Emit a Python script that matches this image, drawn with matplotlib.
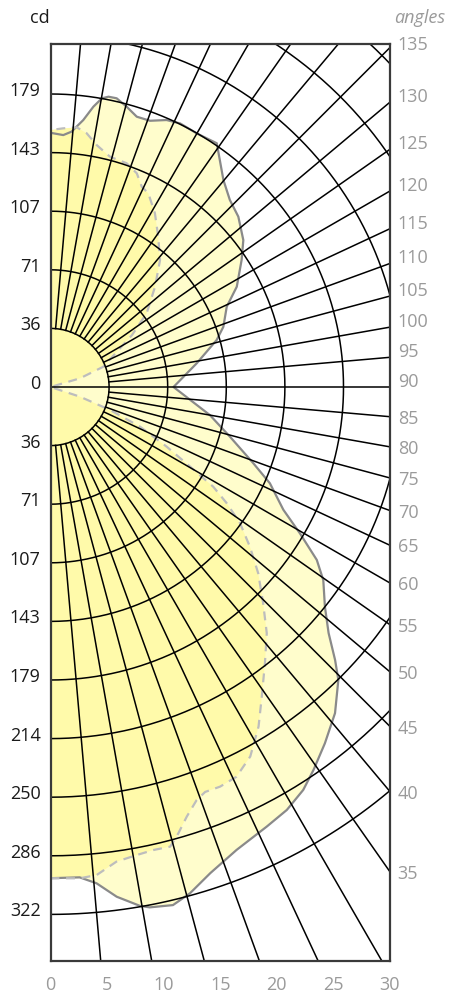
import numpy as np
import matplotlib.pyplot as plt

plt.rcParams['font.family'] = ['Open Sans', 'DejaVu Sans']

# luminous intensity: angle from nadir (deg) -> cd
solid_ang = [0, 3.4, 5.3, 7.4, 9.8, 10.8, 13.3, 15.4, 18.2, 21.9, 26.2, 29.2, 32.1,
             34.5, 37.6, 41.1, 44.5, 46.2, 48.5, 51.3, 54.7, 57.0, 59.6, 62.2, 66.3,
             69.4, 74.5, 80.0, 90.0, 99.2, 105.8, 109.2, 114.5, 118.3, 123.6, 127.3,
             132.2, 136.2, 140.1, 145.7, 150.0, 153.8, 156.5, 159.5, 162.3, 164.8,
             167.1, 168.7, 169.9, 171.3, 173.0, 175.3, 177.1, 180]
solid_cd = [299.5, 299.5, 303.9, 313.4, 321.1, 323.0, 324.6, 320.2, 312.0, 304.2, 298.7,
            295.4, 290.0, 283.2, 274.2, 263.9, 250.4, 240.4, 226.4, 214.4, 203.8, 193.6,
            176.3, 160.5, 146.1, 132.1, 113.6, 98.7, 75.0, 90.3, 105.3, 111.6, 118.1,
            129.0, 139.9, 147.8, 154.6, 158.0, 164.4, 179.9, 178.5, 179.1, 177.5, 173.3,
            173.0, 177.1, 180.6, 180.5, 178.8, 172.9, 164.0, 156.2, 153.8, 155.0]

dash_ang = [0, 3.4, 5.4, 7.9, 10.4, 12.5, 14.6, 16.0, 17.6, 19.5, 20.9, 23.0, 25.5, 28.4,
            31.5, 34.3, 37.8, 41.3, 44.5, 48.1, 51.3, 54.3, 56.6, 58.5, 60.3, 62.8, 66.1,
            68.9, 71.8, 90.0, 106.4, 111.0, 122.5, 127.5, 133.8, 139.2, 144.4, 149.0,
            153.2, 155.5, 158.0, 161.2, 165.5, 169.2, 171.9, 174.2, 177.2, 180]
dash_cd = [299.5, 300.1, 298.9, 292.2, 290.2, 289.2, 289.6, 283.0, 274.8, 267.1, 264.3,
           264.7, 263.3, 256.1, 242.8, 228.6, 213.3, 199.8, 185.0, 170.2, 155.8, 142.3,
           128.7, 116.4, 98.0, 79.7, 59.7, 38.9, 18.9, 0.0, 18.7, 34.5, 58.9, 73.9, 88.3,
           102.2, 112.8, 123.6, 132.3, 134.2, 140.5, 144.1, 145.0, 150.2, 156.3, 159.1,
           157.9, 156.7]

ring_labels = [36, 71, 107, 143, 179, 214, 250, 286, 322]
angle_labels = [35, 40, 45, 50, 55, 60, 65, 70, 75, 80, 85, 90, 95, 100, 105, 110,
                115, 120, 125, 130, 135]
bottom_labels = [0, 5, 10, 15, 20, 25, 30]

step = 35.73          # cd per ring
cdpx = step / 58.6    # cd per pixel
xmax = 339.5 * cdpx
ytop = 343 * cdpx
ybot = -574 * cdpx


def xy(ang, r):
    t = np.radians(np.asarray(ang, float))
    r = np.asarray(r, float)
    return r * np.sin(t), -r * np.cos(t)


fig = plt.figure(figsize=(4.57, 9.94), dpi=100)
ax = fig.add_axes([50.5 / 457, 33 / 994, 339.5 / 457, 917 / 994])
ax.set_xlim(0, xmax)
ax.set_ylim(ybot, ytop)

sx, sy = xy(solid_ang, solid_cd)
dx, dy = xy(dash_ang, dash_cd)
ax.fill(sx, sy, color='#fffdcc', lw=0, zorder=1)
ax.fill(dx, dy, color='#fffaaa', lw=0, zorder=1.5)
ax.plot(sx, sy, color='#8a8a8a', lw=1.6, zorder=2)
ax.plot(dx, dy, color='#bdbdbd', lw=1.6, ls=(0, (4, 3)), zorder=2)

# grid: rings and radial lines every 5 deg
t = np.linspace(0, 180, 361)
for k in range(1, 10):
    ax.plot(*xy(t, np.full_like(t, k * step)), color='black', lw=1.1, zorder=3)
for a in range(5, 180, 5):
    r0 = 0 if a == 90 else step
    ax.plot(*xy([a, a], [r0, 1000]), color='black', lw=1.1, zorder=3)

for sp in ax.spines.values():
    sp.set_color('#3a3a3a')
    sp.set_linewidth(1.6)
    sp.set_zorder(4)
ax.set_xticks([])
ax.set_yticks([])

# ring labels on the left
lab_kw = dict(xycoords=('axes fraction', 'data'), textcoords='offset points',
              ha='right', va='center', fontsize=13, color='#1a1a1a', annotation_clip=False)
ax.annotate('0', xy=(0, 0), xytext=(-7, 2.2), **lab_kw)
for k, lab in enumerate(ring_labels, 1):
    ax.annotate(str(lab), xy=(0, -k * step), xytext=(-7, 2.2), **lab_kw)
    if k * step < ytop:
        ax.annotate(str(lab), xy=(0, k * step), xytext=(-7, 2.2), **lab_kw)

# angle labels on the right
for a in angle_labels:
    yl = -xmax / np.tan(np.radians(a))
    yl = min(yl, ytop - 6 * cdpx)
    off = -1.5 if a < 90 else 3.6
    ax.annotate(str(a), xy=(1, yl), xycoords=('axes fraction', 'data'),
                xytext=(5.5, off), textcoords='offset points', ha='left', va='center',
                fontsize=13, color='#9a9a9a', annotation_clip=False)

# bottom scale
for v in bottom_labels:
    ax.annotate(str(v), xy=(v / 30 * xmax, 0), xycoords=('data', 'axes fraction'),
                xytext=(0, -17), textcoords='offset points', ha='center', va='center',
                fontsize=13, color='#9a9a9a', annotation_clip=False)

fig.text(40 / 457, 1 - 18 / 994, 'cd', ha='center', va='center', fontsize=13, color='#1a1a1a')
fig.text(420 / 457, 1 - 18 / 994, 'angles', ha='center', va='center', fontsize=13,
         style='italic', color='#9a9a9a')

fig.savefig('out.png', dpi=100, facecolor='white')
